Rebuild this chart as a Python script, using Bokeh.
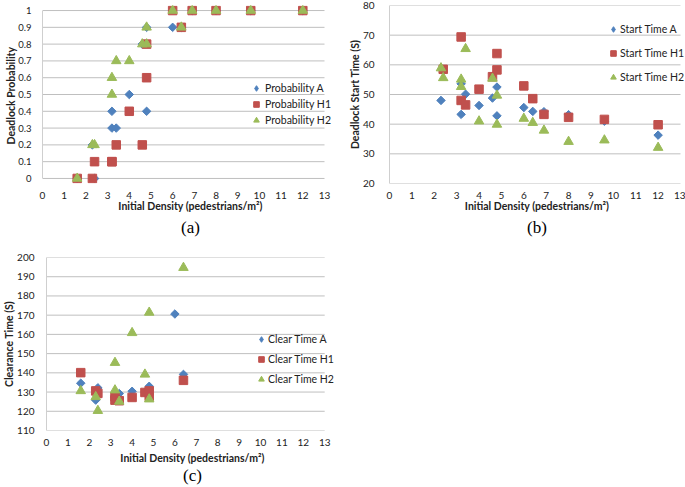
import numpy as np
from bokeh.plotting import figure
from bokeh.layouts import column, row
from bokeh.models import FixedTicker, Legend, LegendItem, Range1d, LinearAxis
from bokeh.embed import file_html
from bokeh.resources import INLINE

# ---------------- data ----------------
x_ticks = list(range(0, 14))

# (a) deadlock probability
dens_all = [1.6, 2.3, 2.4, 3.2, 3.2, 3.4, 4.0, 4.6, 4.8, 4.8, 6.0, 6.4, 6.9, 8.0, 9.6, 12.0]
prob_A = [0, 0.2, 0, 0.3, 0.4, 0.3, 0.5, 0.8, 0.4, 0.9, 0.9, 0.9, 1, 1, 1, 1]
prob_H1 = [0, 0, 0.1, 0.1, 0.1, 0.2, 0.4, 0.2, 0.6, 0.8, 1, 0.9, 1, 1, 1, 1]
prob_H2 = [0, 0.2, 0.2, 0.5, 0.6, 0.7, 0.7, 0.8, 0.8, 0.9, 1, 0.9, 1, 1, 1, 1]
prob_ticks = [0, 0.1, 0.2, 0.3, 0.4, 0.5, 0.6, 0.7, 0.8, 0.9, 1]
prob_tick_labels = ["0", "0.1", "0.2", "0.3", "0.4", "0.5", "0.6", "0.7", "0.8", "0.9", "1"]

# (b) deadlock start time
start_x_A = [2.3, 3.2, 3.2, 3.4, 4.0, 4.6, 4.8, 4.8, 6.0, 6.4, 6.9, 8.0, 9.6, 12.0]
start_A = [48.0, 43.3, 53.6, 50.1, 46.3, 48.8, 52.5, 42.8, 45.6, 44.3, 44.2, 43.2, 41.0, 36.3]
start_x_H1 = [2.4, 3.2, 3.2, 3.4, 4.0, 4.6, 4.8, 4.8, 6.0, 6.4, 6.9, 8.0, 9.6, 12.0]
start_H1 = [58.5, 69.4, 48.0, 46.5, 51.8, 56.0, 63.8, 58.3, 52.9, 48.6, 43.3, 42.3, 41.6, 39.8]
start_x_H2 = [2.3, 2.4, 3.2, 3.2, 3.4, 4.0, 4.6, 4.8, 4.8, 6.0, 6.4, 6.9, 8.0, 9.6, 12.0]
start_H2 = [58.9, 55.6, 55.1, 52.6, 65.4, 41.0, 55.4, 49.7, 39.9, 41.9, 40.5, 37.9, 34.1, 34.6, 32.1]
start_ticks = [20, 30, 40, 50, 60, 70, 80]

# (c) clearance time
clear_x_A = [1.6, 2.3, 2.4, 3.2, 3.2, 3.4, 4.0, 4.6, 4.8, 4.8, 6.0, 6.4]
clear_A = [134.6, 125.8, 132.2, 128.0, 127.0, 129.2, 130.4, 130.0, 131.0, 133.0, 170.6, 139.2]
clear_x_H1 = [1.6, 2.3, 2.4, 3.2, 3.2, 3.4, 4.0, 4.6, 4.8, 4.8, 6.4]
clear_H1 = [140.1, 130.6, 129.3, 127.6, 125.8, 125.5, 127.2, 129.8, 130.6, 127.8, 136.1]
clear_x_H2 = [1.6, 2.3, 2.4, 3.2, 3.2, 3.4, 4.0, 4.6, 4.8, 4.8, 6.4]
clear_H2 = [130.6, 127.5, 120.3, 145.3, 131.0, 125.1, 160.8, 139.2, 171.4, 126.3, 194.7]
clear_ticks = [110, 120, 130, 140, 150, 160, 170, 180, 190, 200]

# ---------------- styles ----------------
BLUE = "#4F81BD"
RED = "#C0504D"
GREEN = "#9BBB59"
GRID = "#BFBFBF"
AXIS = "#CFCFCF"
TEXT = "#222222"
FONT = "Lato"
X_TITLE = "Initial Density (pedestrians/m²)"


def make_fig(w, h, bl, br, bt, bb, data_w, yr, yticks, ytitle, caption,
             xstand, xtitle_stand, cap_stand, ystand, ytitle_stand, ylabel_px="10px"):
    frame_w = w - bl - br
    px_per_unit = data_w / (x_ticks[-1] - x_ticks[0])
    x_end = x_ticks[0] + frame_w / px_per_unit
    p = figure(width=w, height=h, output_backend="svg", toolbar_location=None,
               x_range=Range1d(x_ticks[0], x_end), y_range=Range1d(*yr),
               min_border_left=bl, min_border_right=br,
               min_border_top=bt, min_border_bottom=bb)
    p.outline_line_color = None
    p.background_fill_color = "white"
    p.border_fill_color = "white"
    p.xgrid.visible = False
    p.ygrid.visible = False
    # horizontal gridlines spanning the tick range 0..13
    p.segment(x0=[x_ticks[0]] * len(yticks), x1=[x_ticks[-1]] * len(yticks),
              y0=yticks, y1=yticks, line_color=GRID, line_width=1)
    for ax in (p.xaxis[0], p.yaxis[0]):
        ax.major_tick_line_color = None
        ax.minor_tick_line_color = None
        ax.major_label_text_font = FONT
        ax.major_label_text_font_size = "10px"
        ax.major_label_text_color = TEXT
        ax.axis_label_text_font = FONT
        ax.axis_label_text_font_size = "10.5px"
        ax.axis_label_text_font_style = "bold"
        ax.axis_label_text_color = TEXT
    p.yaxis.major_label_text_font_size = ylabel_px
    p.xaxis.ticker = FixedTicker(ticks=x_ticks)
    p.yaxis.ticker = FixedTicker(ticks=yticks)
    p.xaxis.bounds = (x_ticks[0], x_ticks[-1])
    p.yaxis.bounds = (yticks[0], yticks[-1])
    p.xaxis.axis_label = X_TITLE
    p.yaxis.axis_label = ytitle
    p.xaxis.axis_line_color = None
    p.yaxis.axis_line_color = AXIS
    p.xaxis.major_label_standoff = xstand
    p.yaxis.major_label_standoff = ystand
    p.xaxis.axis_label_standoff = xtitle_stand
    p.yaxis.axis_label_standoff = ytitle_stand
    # caption "(a)" etc. as the label of a bare axis below the x axis
    cap = LinearAxis(ticker=FixedTicker(ticks=[]), bounds=(x_ticks[0], x_ticks[-1]),
                     axis_line_color=None, major_tick_line_color=None,
                     minor_tick_line_color=None, axis_label=caption,
                     axis_label_standoff=cap_stand,
                     axis_label_text_font="Liberation Serif",
                     axis_label_text_font_size="17px",
                     axis_label_text_font_style="normal",
                     axis_label_text_color="black")
    p.add_layout(cap, "below")
    return p


def add_series(p, xs, ys, labels, loc, spacing, standoff):
    rA = p.scatter(xs[0], ys[0], marker="square", angle=np.pi / 4, size=6,
                   fill_color=BLUE, line_color=BLUE)
    rH1 = p.scatter(xs[1], ys[1], marker="square", size=8.5,
                    fill_color=RED, line_color=RED)
    rH2 = p.scatter(xs[2], ys[2], marker="triangle", size=9.5,
                    fill_color=GREEN, line_color=GREEN)
    # key-only glyph (not drawn on the plot) so that the legend shows a diamond
    rA_key = p.scatter(np.array([np.nan]), np.array([np.nan]), marker="diamond",
                       size=8, fill_color=BLUE, line_color=BLUE)
    items = [LegendItem(label=labels[0], renderers=[rA_key]),
             LegendItem(label=labels[1], renderers=[rH1]),
             LegendItem(label=labels[2], renderers=[rH2])]
    lg = Legend(items=items, location=loc)
    lg.glyph_width = 14
    lg.glyph_height = 16
    lg.label_height = 16
    lg.spacing = spacing
    lg.padding = 0
    lg.margin = 0
    lg.label_standoff = standoff
    lg.background_fill_alpha = 0
    lg.border_line_alpha = 0
    lg.label_text_font = FONT
    lg.label_text_font_size = "10.5px"
    lg.label_text_color = TEXT
    p.add_layout(lg)


# (a)
pa = make_fig(340, 240, 42, 2, 5, 57, 282, (-0.03, 1.03), prob_ticks,
              "Deadlock  Probability", "(a)", 2, -2, 3, 5, -2, "9.5px")
pa.yaxis.major_label_overrides = {t: l for t, l in zip(prob_ticks, prob_tick_labels)}
add_series(pa, [dens_all, dens_all, dens_all], [prob_A, prob_H1, prob_H2],
           ["Probability A", "Probability H1", "Probability H2"], (207, 55), 0, 2)

# (b)
pb = make_fig(345, 240, 49, 1, 5, 57, 291, (20, 80), start_ticks,
              "Deadlock Start Time (S)", "(b)", 2, -2, 3, 9, -1)
add_series(pb, [start_x_A, start_x_H1, start_x_H2], [start_A, start_H1, start_H2],
           ["Start Time A", "Start Time H1", "Start Time H2"], (217, 98), 8, 0)

# (c)
pc = make_fig(340, 247, 42, 2, 17, 56, 282, (110, 200), clear_ticks,
              "Clearance Time (S)", "(c)", 2, 3, -1, 6, -1)
add_series(pc, [clear_x_A, clear_x_H1, clear_x_H2], [clear_A, clear_H1, clear_H2],
           ["Clear Time A", "Clear Time H1", "Clear Time H2"], (208, 43), 4, 0)

layout = column(row(pa, pb), pc)
open("out.html", "w").write(file_html(layout, INLINE))
